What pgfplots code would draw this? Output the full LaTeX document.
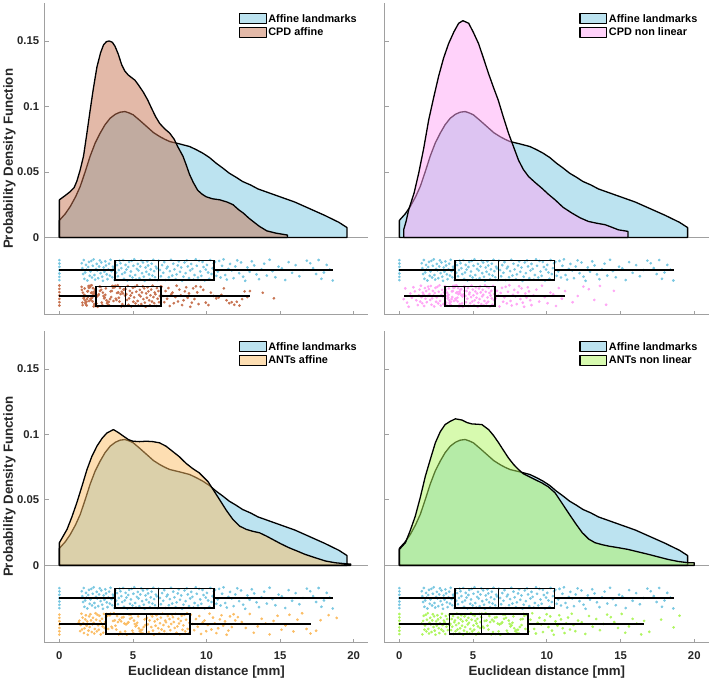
\documentclass[border=0pt]{standalone}
\usepackage{fontspec}
\setmainfont{Liberation Sans}
\usepackage{pgfplots}
\usepackage{pgfplotstable}
\pgfplotsset{compat=1.18}
\usepgfplotslibrary{statistics}

\definecolor{cBlue}{RGB}{121,199,225}
\definecolor{cCPDa}{RGB}{199,115,81}
\definecolor{cCPDn}{RGB}{255,165,245}
\definecolor{cANTa}{RGB}{251,189,101}
\definecolor{cANTn}{RGB}{175,245,95}
\definecolor{axgray}{RGB}{160,160,160}

% ---- kernel density curves (x, pdf) ----
\pgfplotstableread{
x y
0 0
0 0.013
0.4 0.018
0.74 0.0236
1.1 0.031
1.42 0.039
1.75 0.050
2.09 0.062
2.43 0.072
2.77 0.0796
3.1 0.086
3.45 0.091
3.8 0.094
4.12 0.0956
4.46 0.0961
4.75 0.095
5.02 0.0936
5.5 0.089
5.93 0.0847
6.4 0.080
6.82 0.077
7.15 0.075
7.5 0.0732
8.17 0.0714
8.85 0.0694
9.3 0.067
9.75 0.0643
10.2 0.061
10.65 0.0567
11.1 0.053
11.55 0.049
12.0 0.046
12.45 0.0427
13 0.040
13.5 0.037
14 0.035
15 0.031
16 0.027
17 0.022
18 0.017
19 0.0115
19.55 0.0075
19.55 0
}\densBlue

\pgfplotstableread{
x y
0 0
0 0.0287
0.4 0.032
0.74 0.035
1.0 0.038
1.19 0.043
1.4 0.051
1.64 0.062
1.85 0.078
2.09 0.097
2.3 0.113
2.55 0.130
2.8 0.141
3.0 0.147
3.2 0.1495
3.38 0.150
3.6 0.149
3.78 0.146
4.0 0.140
4.23 0.132
4.45 0.127
4.68 0.124
5.14 0.120
5.4 0.116
5.7 0.111
6.0 0.105
6.26 0.0987
6.55 0.092
6.82 0.087
7.15 0.083
7.5 0.0796
7.8 0.075
8.06 0.069
8.4 0.062
8.6 0.056
8.85 0.048
9.1 0.042
9.4 0.036
9.7 0.033
9.98 0.031
10.4 0.0295
10.9 0.0287
11.4 0.027
11.8 0.025
12.2 0.021
12.5 0.0186
12.9 0.0145
13.3 0.011
13.6 0.0084
14.1 0.005
14.7 0.0033
15.5 0.0018
15.5 0
}\densCPDa

\pgfplotstableread{
x y
0.29 0
0.29 0.0058
0.45 0.012
0.63 0.021
1.0 0.034
1.31 0.049
1.65 0.068
1.99 0.0898
2.33 0.107
2.66 0.123
3.0 0.137
3.34 0.148
3.7 0.157
4.02 0.1635
4.31 0.1655
4.7 0.1635
5.0 0.157
5.37 0.148
5.7 0.137
6.05 0.125
6.4 0.114
6.7 0.105
7.05 0.092
7.4 0.0796
7.75 0.069
8.08 0.059
8.4 0.052
8.76 0.0465
9.2 0.042
9.66 0.0376
10.1 0.033
10.56 0.0287
11.1 0.023
11.7 0.0186
12.25 0.015
12.82 0.0122
13.4 0.0108
13.95 0.0097
14.4 0.0078
14.85 0.0058
15.5 0.0046
15.5 0
}\densCPDn

\pgfplotstableread{
x y
0 0
0 0.0173
0.52 0.0275
0.85 0.037
1.19 0.048
1.55 0.061
1.87 0.073
2.2 0.083
2.55 0.091
2.9 0.097
3.22 0.101
3.67 0.1037
4.0 0.1015
4.35 0.0987
4.7 0.096
5.0 0.0948
5.45 0.0945
5.9 0.0948
6.35 0.0945
6.8 0.0936
7.25 0.091
7.7 0.087
8.15 0.083
8.6 0.078
9.05 0.074
9.5 0.0707
10.1 0.064
10.5 0.057
10.9 0.050
11.35 0.042
11.8 0.035
12.25 0.030
12.7 0.0275
13.15 0.026
13.6 0.0249
14.05 0.0225
14.5 0.0198
15.05 0.0165
15.6 0.0135
16.15 0.011
16.7 0.0084
17.4 0.0058
18.1 0.0033
18.75 0.002
19.4 0.0013
19.8 0.001
19.8 0
}\densANTa

\pgfplotstableread{
x y
0 0
0 0.0122
0.41 0.0173
0.75 0.027
1.08 0.0376
1.42 0.052
1.76 0.068
2.1 0.081
2.44 0.0936
2.77 0.102
3.1 0.1075
3.45 0.110
3.8 0.1119
4.24 0.111
4.6 0.109
4.92 0.108
5.26 0.1078
5.6 0.1075
6.05 0.1037
6.4 0.099
6.73 0.0936
7.05 0.088
7.4 0.082
7.75 0.077
8.08 0.0732
8.4 0.070
8.76 0.068
9.2 0.0655
9.66 0.063
10.1 0.060
10.56 0.0554
11.0 0.048
11.47 0.040
11.95 0.032
12.4 0.025
12.85 0.020
13.27 0.0173
13.75 0.0158
14.2 0.0147
14.85 0.0135
15.5 0.0122
16.2 0.0103
16.9 0.0084
17.55 0.0065
18.2 0.0046
18.9 0.003
19.6 0.002
20.0 0.002
20.0 0
}\densANTn

% ---- raw distances (x) with vertical jitter (j, -1..1) ----
\pgfplotstableread{
x j
0 -0.9
0 -0.6
0 -0.3
0 0
0 0.3
0 0.6
0 0.9
1.52 0.62
1.56 0.18
1.61 -0.35
1.66 0.91
1.70 -0.78
1.75 -0.21
1.81 0.47
1.85 0.05
1.90 -0.93
1.96 0.28
2.01 0.74
2.06 -0.51
2.11 -0.12
2.17 0.83
2.22 -0.66
2.27 0.39
2.33 0.97
2.38 -0.44
2.43 -0.85
2.49 0.11
2.54 0.56
2.58 -0.03
2.64 -0.72
2.70 0.33
2.75 0.88
2.80 -0.27
2.85 0.69
2.91 -0.59
2.96 -0.96
3.01 0.24
3.06 -0.15
3.12 0.79
3.17 0.42
3.22 -0.38
3.27 -0.81
3.33 0.07
3.38 0.58
3.43 -0.49
3.48 0.93
3.54 -0.09
3.59 -0.64
3.64 0.31
3.69 0.16
3.75 -0.89
3.80 0.72
3.86 -0.24
3.92 0.45
3.98 -0.55
4.04 0.01
4.09 0.85
4.15 0.62
4.21 0.18
4.27 -0.35
4.33 0.91
4.39 -0.78
4.45 -0.21
4.50 0.47
4.56 0.05
4.62 -0.93
4.68 0.28
4.74 0.74
4.80 -0.51
4.86 -0.12
4.91 0.83
4.97 -0.66
5.03 0.39
5.09 0.97
5.15 -0.44
5.21 -0.85
5.27 0.11
5.33 0.56
5.38 -0.03
5.44 -0.72
5.50 0.33
5.56 0.88
5.62 -0.27
5.68 0.69
5.74 -0.59
5.80 -0.96
5.86 0.24
5.91 -0.15
5.97 0.79
6.03 0.42
6.09 -0.38
6.15 -0.81
6.21 0.07
6.27 0.58
6.32 -0.49
6.38 0.93
6.44 -0.09
6.50 -0.64
6.56 0.31
6.62 0.16
6.68 -0.89
6.75 0.85
6.83 0.01
6.90 -0.55
6.98 0.45
7.06 -0.24
7.13 0.72
7.21 -0.89
7.29 0.16
7.36 0.31
7.44 -0.64
7.51 -0.09
7.59 0.93
7.67 -0.49
7.74 0.58
7.82 0.07
7.90 -0.81
7.97 -0.38
8.05 0.42
8.12 0.79
8.20 -0.15
8.28 0.24
8.35 -0.96
8.43 -0.59
8.51 0.69
8.58 -0.27
8.66 0.88
8.73 0.33
8.81 -0.72
8.89 -0.03
8.96 0.56
9.04 0.11
9.12 -0.85
9.19 -0.44
9.27 0.97
9.34 0.39
9.42 -0.66
9.50 0.83
9.57 -0.12
9.65 -0.51
9.73 0.74
9.80 0.28
9.88 -0.93
9.95 0.05
10.03 0.47
10.11 -0.21
10.18 -0.78
10.26 0.91
10.34 -0.35
10.41 0.18
10.49 0.62
10.58 0.74
10.67 -0.51
10.77 -0.12
10.86 0.83
10.96 -0.66
11.06 0.39
11.16 0.97
11.27 -0.44
11.38 -0.85
11.49 0.11
11.60 0.56
11.72 -0.03
11.84 -0.72
11.96 0.33
12.09 0.88
12.22 -0.27
12.35 0.69
12.49 -0.59
12.63 -0.96
12.78 0.24
12.93 -0.15
13.08 0.79
13.24 0.42
13.40 -0.38
13.57 -0.81
13.74 0.07
13.92 0.58
14.10 -0.49
14.29 0.93
14.48 -0.09
14.68 -0.64
14.90 0.31
15.12 0.16
15.35 -0.89
15.58 0.72
15.82 -0.24
16.06 0.45
16.31 -0.55
16.56 0.01
16.82 0.85
17.05 0.62
17.25 0.18
17.45 -0.35
17.62 0.91
17.81 -0.78
17.98 -0.21
18.17 0.47
18.38 0.05
18.58 -0.93
}\ptsBlue

\pgfplotstableread{
x j
0 -0.85
0 -0.55
0 -0.25
0 0.05
0 0.35
0 0.65
0 0.95
1.51 0.83
1.53 0.56
1.56 -0.59
1.58 -0.81
1.60 0.31
1.63 0.01
1.65 -0.21
1.67 -0.12
1.70 0.11
1.72 0.69
1.74 -0.38
1.77 -0.64
1.79 -0.55
1.81 -0.78
1.84 -0.51
1.86 -0.85
1.88 -0.27
1.91 0.42
1.93 -0.09
1.95 0.45
1.98 0.91
2.00 0.74
2.02 -0.44
2.05 0.88
2.07 0.79
2.09 0.93
2.12 -0.24
2.14 -0.35
2.16 0.28
2.19 0.97
2.21 0.33
2.23 -0.15
2.26 -0.49
2.28 0.72
2.30 0.18
2.33 -0.93
2.35 0.39
2.37 -0.72
2.40 0.24
2.42 0.58
2.44 -0.89
2.46 0.62
2.49 0.05
2.52 -0.66
2.56 -0.03
2.60 -0.96
2.64 0.07
2.68 0.16
2.72 0.85
2.76 0.47
2.80 0.83
2.84 0.56
2.88 -0.59
2.92 -0.81
2.96 0.31
3.00 0.01
3.04 -0.21
3.08 -0.12
3.12 0.11
3.16 0.69
3.20 -0.38
3.24 -0.64
3.28 -0.55
3.32 -0.78
3.36 -0.51
3.40 -0.85
3.44 -0.27
3.48 0.42
3.52 -0.09
3.56 0.45
3.60 0.91
3.64 0.74
3.68 -0.44
3.72 0.88
3.76 0.79
3.80 0.93
3.84 -0.24
3.88 -0.35
3.92 0.28
3.96 0.97
4.00 0.33
4.04 -0.15
4.08 -0.49
4.12 0.72
4.16 0.18
4.20 -0.93
4.24 0.39
4.28 -0.72
4.32 0.24
4.36 0.58
4.40 -0.89
4.44 0.62
4.47 0.05
4.50 0.62
4.55 0.18
4.60 -0.35
4.65 0.91
4.70 -0.78
4.74 -0.21
4.79 0.47
4.84 0.05
4.89 -0.93
4.94 0.28
4.99 0.74
5.03 -0.51
5.08 -0.12
5.13 0.83
5.18 -0.66
5.23 0.39
5.28 0.97
5.32 -0.44
5.37 -0.85
5.42 0.11
5.47 0.56
5.52 -0.03
5.57 -0.72
5.61 0.33
5.66 0.88
5.71 -0.27
5.76 0.69
5.81 -0.59
5.86 -0.96
5.90 0.24
5.95 -0.15
6.00 0.79
6.05 0.42
6.10 -0.38
6.15 -0.81
6.19 0.07
6.24 0.58
6.29 -0.49
6.34 0.93
6.39 -0.09
6.44 -0.64
6.48 0.31
6.53 0.16
6.58 -0.89
6.63 0.72
6.68 -0.24
6.73 0.45
6.77 -0.55
6.82 0.01
6.87 0.85
6.95 0.85
7.04 0.01
7.13 -0.55
7.22 0.45
7.32 -0.24
7.41 0.72
7.50 -0.89
7.60 0.16
7.69 0.31
7.78 -0.64
7.88 -0.09
7.97 0.93
8.06 -0.49
8.16 0.58
8.25 0.07
8.34 -0.81
8.44 -0.38
8.53 0.42
8.62 0.79
8.72 -0.15
8.81 0.24
8.90 -0.96
9.00 -0.59
9.09 0.69
9.18 -0.27
9.28 0.88
9.37 0.33
9.46 -0.72
9.60 0.83
9.78 0.56
9.95 -0.59
10.13 -0.81
10.30 0.31
10.48 0.01
10.66 -0.21
10.83 -0.12
11.01 0.11
11.18 0.69
11.36 -0.38
11.54 -0.64
11.71 -0.55
11.89 -0.78
12.06 -0.51
12.24 -0.85
12.42 -0.27
12.59 0.42
12.77 -0.09
12.95 0.45
13.82 0.30
14.58 -0.20
}\ptsCPDa

\pgfplotstableread{
x j
0.29 -0.27
0.40 0.69
0.52 -0.59
0.63 -0.96
0.74 0.24
0.85 -0.15
0.95 0.79
1.05 0.42
1.15 -0.38
1.25 -0.81
1.32 0.07
1.37 0.58
1.41 -0.49
1.46 0.93
1.50 -0.09
1.55 -0.64
1.59 0.31
1.64 0.16
1.68 -0.89
1.73 0.72
1.77 -0.24
1.82 0.45
1.86 -0.55
1.91 0.01
1.95 0.85
2.00 0.62
2.04 0.18
2.09 -0.35
2.13 0.91
2.18 -0.78
2.22 -0.21
2.27 0.47
2.31 0.05
2.36 -0.93
2.40 0.28
2.45 0.74
2.49 -0.51
2.54 -0.12
2.58 0.83
2.63 -0.66
2.67 0.39
2.72 0.97
2.76 -0.44
2.81 -0.85
2.85 0.11
2.90 0.56
2.94 -0.03
2.99 -0.72
3.03 0.33
3.08 0.88
3.12 0.83
3.15 0.56
3.17 -0.59
3.20 -0.81
3.23 0.31
3.25 0.01
3.28 -0.21
3.31 -0.12
3.33 0.11
3.36 0.69
3.38 -0.38
3.41 -0.64
3.44 -0.55
3.46 -0.78
3.49 -0.51
3.51 -0.85
3.54 -0.27
3.57 0.42
3.59 -0.09
3.62 0.45
3.65 0.91
3.67 0.74
3.70 -0.44
3.72 0.88
3.75 0.79
3.78 0.93
3.80 -0.24
3.83 -0.35
3.86 0.28
3.88 0.97
3.91 0.33
3.93 -0.15
3.96 -0.49
3.99 0.72
4.01 0.18
4.04 -0.93
4.07 0.39
4.09 -0.72
4.12 0.24
4.14 0.58
4.17 -0.89
4.20 0.62
4.22 0.05
4.25 -0.66
4.28 -0.03
4.30 -0.96
4.33 0.07
4.35 0.16
4.38 0.85
4.41 0.47
4.44 0.85
4.48 0.01
4.52 -0.55
4.56 0.45
4.61 -0.24
4.65 0.72
4.69 -0.89
4.73 0.16
4.77 0.31
4.81 -0.64
4.86 -0.09
4.90 0.93
4.94 -0.49
4.98 0.58
5.02 0.07
5.06 -0.81
5.11 -0.38
5.15 0.42
5.19 0.79
5.23 -0.15
5.27 0.24
5.31 -0.96
5.36 -0.59
5.40 0.69
5.44 -0.27
5.48 0.88
5.52 0.33
5.56 -0.72
5.61 -0.03
5.65 0.56
5.69 0.11
5.73 -0.85
5.77 -0.44
5.81 0.97
5.86 0.39
5.90 -0.66
5.94 0.83
5.98 -0.12
6.02 -0.51
6.06 0.74
6.11 0.28
6.15 -0.93
6.19 0.05
6.23 0.47
6.27 -0.21
6.31 -0.78
6.36 0.91
6.40 -0.35
6.44 0.18
6.48 0.62
6.54 -0.21
6.62 0.47
6.71 0.05
6.79 -0.93
6.87 0.28
6.96 0.74
7.04 -0.51
7.12 -0.12
7.21 0.83
7.29 -0.66
7.37 0.39
7.46 0.97
7.54 -0.44
7.62 -0.85
7.71 0.11
7.79 0.56
7.87 -0.03
7.96 -0.72
8.04 0.33
8.12 0.88
8.21 -0.27
8.29 0.69
8.37 -0.59
8.46 -0.96
8.54 0.24
8.62 -0.15
8.71 0.79
8.79 0.42
8.87 -0.38
8.96 -0.81
9.10 0.07
9.29 0.58
9.48 -0.49
9.67 0.93
9.86 -0.09
10.05 -0.64
10.24 0.31
10.43 0.16
10.62 -0.89
10.81 0.72
11.02 -0.24
11.24 0.45
11.75 -0.55
12.10 0.01
12.48 0.85
12.85 0.62
13.22 -0.35
13.60 0.91
14.02 -0.78
14.55 0.47
}\ptsCPDn

\pgfplotstableread{
x j
0 -0.95
0 -0.65
0 -0.35
0 -0.05
0 0.25
0 0.55
0 0.85
1.32 0.16
1.36 0.31
1.41 -0.64
1.45 -0.09
1.50 0.93
1.54 -0.49
1.58 0.58
1.63 0.07
1.67 -0.81
1.71 -0.38
1.76 0.42
1.80 0.79
1.85 -0.15
1.89 0.24
1.93 -0.96
1.98 -0.59
2.02 0.69
2.06 -0.27
2.11 0.88
2.15 0.33
2.20 -0.72
2.24 -0.03
2.28 0.56
2.33 0.11
2.37 -0.85
2.41 -0.44
2.46 0.97
2.50 0.39
2.55 -0.66
2.59 0.83
2.63 -0.12
2.68 -0.51
2.72 0.74
2.76 0.28
2.81 -0.93
2.85 0.05
2.90 0.47
2.94 -0.21
2.98 -0.78
3.03 0.91
3.07 -0.35
3.11 0.18
3.16 0.62
3.21 0.91
3.26 0.74
3.32 -0.44
3.37 0.88
3.43 0.79
3.48 0.93
3.54 -0.24
3.59 -0.35
3.65 0.28
3.70 0.97
3.76 0.33
3.81 -0.15
3.87 -0.49
3.92 0.72
3.98 0.18
4.03 -0.93
4.09 0.39
4.14 -0.72
4.20 0.24
4.25 0.58
4.31 -0.89
4.36 0.62
4.42 0.05
4.47 -0.66
4.53 -0.03
4.58 -0.96
4.63 0.07
4.69 0.16
4.74 0.85
4.80 0.47
4.85 0.83
4.91 0.56
4.96 -0.59
5.02 -0.81
5.07 0.31
5.13 0.01
5.18 -0.21
5.24 -0.12
5.29 0.11
5.35 0.69
5.40 -0.38
5.46 -0.64
5.51 -0.55
5.57 -0.78
5.62 -0.51
5.68 -0.85
5.73 -0.27
5.79 0.42
5.84 -0.09
5.90 0.45
5.95 0.56
6.01 -0.03
6.07 -0.72
6.13 0.33
6.19 0.88
6.25 -0.27
6.31 0.69
6.36 -0.59
6.42 -0.96
6.48 0.24
6.54 -0.15
6.60 0.79
6.66 0.42
6.72 -0.38
6.78 -0.81
6.84 0.07
6.90 0.58
6.95 -0.49
7.01 0.93
7.07 -0.09
7.13 -0.64
7.19 0.31
7.25 0.16
7.31 -0.89
7.37 0.72
7.43 -0.24
7.49 0.45
7.54 -0.55
7.60 0.01
7.66 0.85
7.72 0.62
7.78 0.18
7.84 -0.35
7.90 0.91
7.96 -0.78
8.02 -0.21
8.08 0.47
8.13 0.05
8.19 -0.93
8.25 0.28
8.31 0.74
8.37 -0.51
8.43 -0.12
8.49 0.83
8.55 -0.66
8.61 0.39
8.67 0.97
8.72 -0.44
8.78 -0.85
8.84 0.11
8.93 0.85
9.05 0.01
9.16 -0.55
9.28 0.45
9.40 -0.24
9.51 0.72
9.63 -0.89
9.74 0.16
9.86 0.31
9.98 -0.64
10.09 -0.09
10.21 0.93
10.33 -0.49
10.44 0.58
10.56 0.07
10.67 -0.81
10.79 -0.38
10.91 0.42
11.02 0.79
11.14 -0.15
11.26 0.24
11.37 -0.96
11.49 -0.59
11.60 0.69
11.72 -0.27
11.84 0.88
11.95 0.33
12.13 0.62
12.40 0.18
12.67 -0.35
12.94 0.91
13.21 -0.78
13.48 -0.21
13.75 0.47
14.02 0.05
14.29 -0.93
14.56 0.28
14.83 0.74
15.10 -0.51
15.37 -0.12
15.64 0.83
15.91 -0.66
16.18 0.39
16.50 0.97
16.80 -0.44
17.07 -0.85
17.45 -0.60
17.75 0.35
18.30 0.80
18.85 0.55
}\ptsANTa

\pgfplotstableread{
x j
0 -0.9
0 -0.6
0 -0.3
0 0
0 0.3
0 0.6
0 0.9
1.52 0.05
1.56 -0.93
1.61 0.28
1.65 0.74
1.70 -0.51
1.74 -0.12
1.79 0.83
1.83 -0.66
1.87 0.39
1.92 0.97
1.96 -0.44
2.01 -0.85
2.05 0.11
2.09 0.56
2.14 -0.03
2.18 -0.72
2.23 0.33
2.27 0.88
2.32 -0.27
2.36 0.69
2.40 -0.59
2.45 -0.96
2.49 0.24
2.54 -0.15
2.58 0.79
2.62 0.42
2.67 -0.38
2.71 -0.81
2.76 0.07
2.80 0.58
2.85 -0.49
2.89 0.93
2.93 -0.09
2.98 -0.64
3.02 0.31
3.07 0.16
3.11 -0.89
3.15 0.72
3.20 -0.24
3.24 0.45
3.29 -0.55
3.33 0.01
3.38 0.85
3.42 -0.10
3.46 0.01
3.51 -0.55
3.55 0.45
3.59 -0.24
3.64 0.72
3.68 -0.89
3.72 0.16
3.77 0.31
3.81 -0.64
3.85 -0.09
3.90 0.93
3.94 -0.49
3.98 0.58
4.03 0.07
4.07 -0.81
4.12 -0.38
4.16 0.42
4.20 0.79
4.25 -0.15
4.29 0.24
4.33 -0.96
4.38 -0.59
4.42 0.69
4.46 -0.27
4.51 0.88
4.55 0.33
4.59 -0.72
4.64 -0.03
4.68 0.56
4.72 0.11
4.77 -0.85
4.81 -0.44
4.85 0.97
4.90 0.39
4.94 -0.66
4.98 0.83
5.03 -0.12
5.07 -0.51
5.11 0.74
5.16 0.28
5.20 -0.93
5.24 0.05
5.29 0.47
5.33 -0.21
5.37 -0.78
5.42 0.91
5.46 -0.35
5.50 0.18
5.55 0.62
5.60 0.93
5.66 -0.24
5.73 -0.35
5.79 0.28
5.85 0.97
5.91 0.33
5.98 -0.15
6.04 -0.49
6.10 0.72
6.16 0.18
6.23 -0.93
6.29 0.39
6.35 -0.72
6.41 0.24
6.48 0.58
6.54 -0.89
6.60 0.62
6.67 0.05
6.73 -0.66
6.79 -0.03
6.85 -0.96
6.92 0.07
6.98 0.16
7.04 0.85
7.10 0.47
7.17 0.83
7.23 0.56
7.29 -0.59
7.35 -0.81
7.42 0.31
7.48 0.01
7.54 -0.21
7.61 -0.12
7.67 0.11
7.73 0.69
7.79 -0.38
7.86 -0.64
7.92 -0.55
7.98 -0.78
8.04 -0.51
8.11 -0.85
8.17 -0.27
8.23 0.42
8.29 -0.09
8.36 0.45
8.42 0.91
8.48 0.74
8.55 -0.44
8.61 0.88
8.67 0.79
8.77 -0.66
8.89 0.39
9.01 0.97
9.14 -0.44
9.26 -0.85
9.38 0.11
9.50 0.56
9.62 -0.03
9.74 -0.72
9.86 0.33
9.99 0.88
10.11 -0.27
10.23 0.69
10.35 -0.59
10.47 -0.96
10.59 0.24
10.72 -0.15
10.84 0.79
10.96 0.42
11.08 -0.38
11.20 -0.81
11.32 0.07
11.44 0.58
11.57 -0.49
11.69 0.93
11.81 -0.09
11.93 -0.64
12.12 0.31
12.37 0.16
12.61 -0.89
12.86 0.72
13.11 -0.24
13.35 0.45
13.60 -0.55
13.84 0.01
14.09 0.85
14.34 0.62
14.58 0.18
14.83 -0.35
15.08 0.91
15.32 -0.78
15.57 -0.21
15.82 0.47
16.10 0.05
16.40 -0.93
16.60 0.28
16.95 -0.70
17.75 0.40
18.60 -0.30
19.00 0.75
}\ptsANTn

\pgfplotsset{
  rain/.style={
    set layers=standard,
    scale only axis, width=324pt, height=312pt,
    xmin=-1, xmax=21, ymin=-0.059, ymax=0.179,
    axis x line*=bottom, axis y line*=left,
    axis line style={-, draw=axgray, line width=0.8pt},
    tick style={draw=axgray, line width=0.8pt},
    tick align=inside, major tick length=4pt,
    xtick={0,5,10,15,20}, ytick={0,0.05,0.1,0.15},
    xticklabels={}, yticklabels={},
    extra y ticks={0}, extra y tick labels={},
    extra y tick style={grid=major, major grid style={draw=axgray, line width=0.8pt}},
    /pgf/number format/assume math mode=true,
    ticklabel style={font=\fontsize{11.3}{13}\selectfont\bfseries, text=black!85},
    xticklabel style={yshift=-5.5pt},
    yticklabel style={xshift=-2pt},
    label style={font=\fontsize{13.3}{15}\selectfont\bfseries, text=black!85},
    ylabel style={at={(axis description cs:-0.1086,0.5)}, anchor=center},
    xlabel style={at={(axis description cs:0.5,0)}, yshift=-29pt, anchor=center},
    legend cell align=left,
    legend image code/.code={\draw[##1, line width=1.1pt] (0pt,-5pt) rectangle (27pt,5pt);},
    legend style={at={(axis description cs:1,1)}, anchor=north east, xshift=-10pt, yshift=-9.5pt,
      draw=none, fill=none, inner sep=0pt, row sep=1pt,
      font=\fontsize{10.9}{12}\selectfont\bfseries, text=black,
      nodes={inner sep=1.5pt}},
  },
  dens/.style={draw=black, line width=1.3pt, line join=round, fill=#1, fill opacity=0.5},
  pts/.style={only marks, mark=*, mark size=1.15pt, color=#1, forget plot},
  bx/.style={black, line width=1.5pt, forget plot, on layer=axis foreground},
  % horizontal box: position, whisker low, Q1, median, Q3, whisker high
  hbox/.style n args={6}{boxplot prepared={draw direction=x, draw position=#1,
    box extend=0.0150, whisker extend=0,
    lower whisker=#2, lower quartile=#3, median=#4, upper quartile=#5, upper whisker=#6,
    every box/.style={draw=black, line width=1.5pt},
    every whisker/.style={draw=black, line width=1.5pt},
    every median/.style={draw=black, line width=1.5pt}}},
}

\begin{document}
\begin{tikzpicture}
\path (0pt,0pt) rectangle (711pt,681pt);

% ---------- top left: CPD affine ----------
\begin{axis}[rain, at={(44pt,366pt)}, anchor=south west,
  yticklabels={0,0.05,0.1,0.15}, ylabel={Probability Density Function}]
\addplot[dens=cBlue] table {\densBlue} -- cycle;
\addlegendentry{Affine landmarks}
\addplot[dens=cCPDa] table {\densCPDa} -- cycle;
\addlegendentry{CPD affine}
\addplot[pts=cBlue] table[x=x, y expr={-0.0250+0.0085*\thisrow{j}}] {\ptsBlue};
\addplot[pts=cCPDa] table[x=x, y expr={-0.0448+0.0085*\thisrow{j}}] {\ptsCPDa};
\addplot[bx, hbox={-0.0250}{0}{3.78}{6.72}{10.52}{18.6}] coordinates {};
\addplot[bx, hbox={-0.0448}{0}{2.5}{4.48}{6.9}{12.95}] coordinates {};
\end{axis}

% ---------- top right: CPD non linear ----------
\begin{axis}[rain, at={(384.3pt,366pt)}, anchor=south west, width=324.7pt]
\addplot[dens=cBlue] table {\densBlue} -- cycle;
\addlegendentry{Affine landmarks}
\addplot[dens=cCPDn] table {\densCPDn} -- cycle;
\addlegendentry{CPD non linear}
\addplot[pts=cBlue] table[x=x, y expr={-0.0250+0.0085*\thisrow{j}}] {\ptsBlue};
\addplot[pts=cCPDn] table[x=x, y expr={-0.0448+0.0085*\thisrow{j}}] {\ptsCPDn};
\addplot[bx, hbox={-0.0250}{0}{3.78}{6.72}{10.52}{18.6}] coordinates {};
\addplot[bx, hbox={-0.0448}{0.29}{3.11}{4.42}{6.5}{11.24}] coordinates {};
\end{axis}

% ---------- bottom left: ANTs affine ----------
\begin{axis}[rain, at={(44pt,37.7pt)}, anchor=south west,
  yticklabels={0,0.05,0.1,0.15}, xticklabels={0,5,10,15,20},
  ylabel={Probability Density Function}, xlabel={Euclidean distance [mm]}]
\addplot[dens=cBlue] table {\densBlue} -- cycle;
\addlegendentry{Affine landmarks}
\addplot[dens=cANTa] table {\densANTa} -- cycle;
\addlegendentry{ANTs affine}
\addplot[pts=cBlue] table[x=x, y expr={-0.0250+0.0085*\thisrow{j}}] {\ptsBlue};
\addplot[pts=cANTa] table[x=x, y expr={-0.0448+0.0085*\thisrow{j}}] {\ptsANTa};
\addplot[bx, hbox={-0.0250}{0}{3.78}{6.72}{10.52}{18.6}] coordinates {};
\addplot[bx, hbox={-0.0448}{0}{3.18}{5.92}{8.87}{17.07}] coordinates {};
\end{axis}

% ---------- bottom right: ANTs non linear ----------
\begin{axis}[rain, at={(384.3pt,37.7pt)}, anchor=south west, width=324.7pt,
  xticklabels={0,5,10,15,20}, xlabel={Euclidean distance [mm]}]
\addplot[dens=cBlue] table {\densBlue} -- cycle;
\addlegendentry{Affine landmarks}
\addplot[dens=cANTn] table {\densANTn} -- cycle;
\addlegendentry{ANTs non linear}
\addplot[pts=cBlue] table[x=x, y expr={-0.0250+0.0085*\thisrow{j}}] {\ptsBlue};
\addplot[pts=cANTn] table[x=x, y expr={-0.0448+0.0085*\thisrow{j}}] {\ptsANTn};
\addplot[bx, hbox={-0.0250}{0}{3.78}{6.72}{10.52}{18.6}] coordinates {};
\addplot[bx, hbox={-0.0448}{0}{3.4}{5.57}{8.71}{16.6}] coordinates {};
\end{axis}
\end{tikzpicture}
\end{document}
